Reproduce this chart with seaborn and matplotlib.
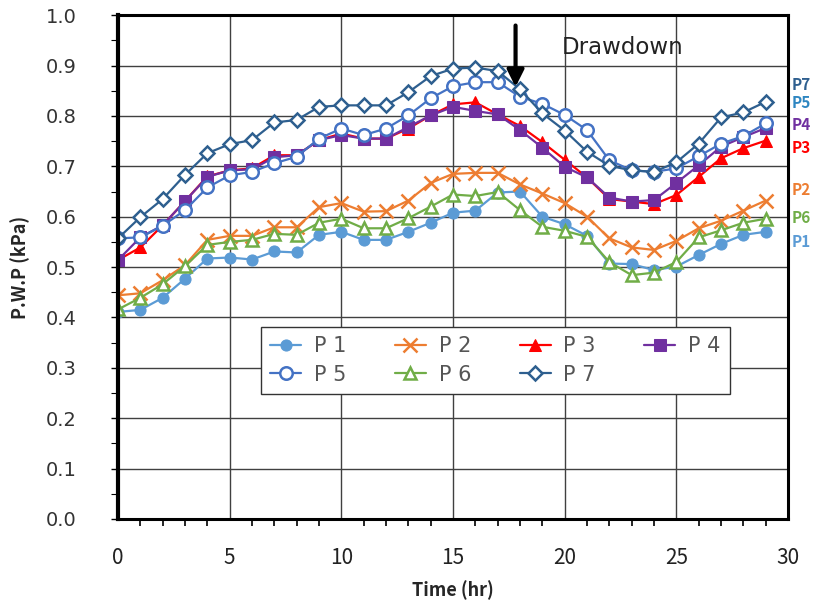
import numpy as np
import pandas as pd
import matplotlib
matplotlib.use("Agg")
import matplotlib.pyplot as plt
import seaborn as sns
from matplotlib.ticker import MultipleLocator

hours = list(range(30))

p1 = [0.411, 0.415, 0.439, 0.477, 0.517, 0.519, 0.515, 0.531, 0.529, 0.564,
      0.570, 0.554, 0.554, 0.570, 0.588, 0.608, 0.612, 0.648, 0.650, 0.600,
      0.585, 0.562, 0.507, 0.506, 0.494, 0.501, 0.524, 0.546, 0.564, 0.570]
p2 = [0.444, 0.448, 0.474, 0.504, 0.554, 0.562, 0.562, 0.579, 0.579, 0.619,
      0.627, 0.610, 0.611, 0.632, 0.667, 0.685, 0.687, 0.687, 0.664, 0.646,
      0.627, 0.600, 0.557, 0.539, 0.534, 0.552, 0.577, 0.592, 0.612, 0.632]
p3 = [0.514, 0.539, 0.583, 0.631, 0.680, 0.692, 0.696, 0.722, 0.722, 0.752,
      0.765, 0.755, 0.755, 0.775, 0.801, 0.823, 0.827, 0.803, 0.780, 0.748,
      0.713, 0.678, 0.635, 0.630, 0.625, 0.643, 0.679, 0.716, 0.736, 0.751]
p4 = [0.514, 0.559, 0.583, 0.631, 0.679, 0.692, 0.694, 0.718, 0.722, 0.752,
      0.762, 0.755, 0.755, 0.778, 0.801, 0.818, 0.810, 0.803, 0.772, 0.737,
      0.699, 0.678, 0.638, 0.630, 0.633, 0.667, 0.702, 0.739, 0.758, 0.776]
p5 = [0.557, 0.559, 0.582, 0.613, 0.658, 0.682, 0.689, 0.706, 0.719, 0.755,
      0.775, 0.762, 0.775, 0.801, 0.835, 0.859, 0.867, 0.867, 0.838, 0.824,
      0.802, 0.772, 0.712, 0.692, 0.689, 0.696, 0.720, 0.745, 0.760, 0.785]
p6 = [0.416, 0.439, 0.466, 0.502, 0.544, 0.550, 0.554, 0.566, 0.564, 0.588,
      0.596, 0.577, 0.577, 0.597, 0.620, 0.644, 0.641, 0.649, 0.613, 0.580,
      0.572, 0.560, 0.510, 0.484, 0.489, 0.510, 0.559, 0.573, 0.588, 0.596]
p7 = [0.557, 0.599, 0.635, 0.683, 0.726, 0.744, 0.752, 0.787, 0.792, 0.818,
      0.821, 0.821, 0.821, 0.847, 0.879, 0.894, 0.896, 0.889, 0.853, 0.805,
      0.771, 0.729, 0.701, 0.692, 0.689, 0.708, 0.745, 0.797, 0.807, 0.828]

names = ["P 1", "P 2", "P 3", "P 4", "P 5", "P 6", "P 7"]
series = [p1, p2, p3, p4, p5, p6, p7]
colors = ["#5b9bd5", "#ed7d31", "#ff0000", "#7030a0", "#4472c4", "#70ad47", "#2e5f8f"]
markers = ["o", "x", "^", "s", "o", "^", "D"]
filled = [True, True, True, True, False, False, False]
sizes = [8, 10, 9, 9, 9, 9, 7]

# right-side tags and where they sit
tag_names = ["P7", "P5", "P4", "P3", "P2", "P6", "P1"]
tag_colors = ["#2e5f8f", "#2e86c1", "#7030a0", "#ff0000", "#ed7d31", "#70ad47", "#5b9bd5"]
tag_y = [0.862, 0.826, 0.782, 0.736, 0.653, 0.597, 0.550]

sns.set_style("white")
plt.rcParams["font.family"] = ["DejaVu Sans"]

fig = plt.figure(figsize=(8.23, 6.07), dpi=100)
ax = fig.add_axes([0.1434, 0.145, 0.8141, 0.830])

for name, vals, c, m, f, s in zip(names, series, colors, markers, filled, sizes):
    kw = dict(marker=m, markersize=s, color=c, linewidth=1.6)
    if f:
        kw["markerfacecolor"] = c
        kw["markeredgecolor"] = c
    else:
        kw["markerfacecolor"] = "white"
        kw["markeredgecolor"] = c
        kw["markeredgewidth"] = 1.8
    if m == "x":
        kw["markeredgewidth"] = 1.8
    sns.lineplot(x=hours, y=vals, ax=ax, label=name, **kw)

ax.set_xlim(0, 30)
ax.set_ylim(0, 1.0)
ax.xaxis.set_major_locator(MultipleLocator(5))
ax.xaxis.set_minor_locator(MultipleLocator(1))
ax.yaxis.set_major_locator(MultipleLocator(0.1))
ax.yaxis.set_minor_locator(MultipleLocator(0.05))
ax.yaxis.set_major_formatter(matplotlib.ticker.FormatStrFormatter("%.1f"))
ax.grid(True, which="major", color="#404040", linewidth=1.0)
ax.set_axisbelow(True)

ax.tick_params(axis="both", which="both", direction="out", colors="black")
ax.tick_params(axis="x", which="major", length=8, width=1.5, labelsize=15, pad=12)
ax.tick_params(axis="x", which="minor", length=5, width=1.2, bottom=True)
ax.tick_params(axis="y", which="major", length=5, width=1, labelsize=14, pad=25, left=True)
ax.tick_params(axis="y", which="minor", length=5, width=0.8, left=True)
for lab in ax.get_xticklabels():
    lab.set_family("Noto Sans CJK KR")
    lab.set_color("#222222")
for lab in ax.get_yticklabels():
    lab.set_color("#333333")

for sp in ax.spines.values():
    sp.set_visible(True)
    sp.set_color("black")
    sp.set_linewidth(2.2)
ax.spines["left"].set_linewidth(3)

ax.set_xlabel("Time (hr)", fontsize=13, fontweight="bold", family="Noto Sans CJK KR", labelpad=8)
ax.set_ylabel("P.W.P (kPa)", fontsize=13, fontweight="bold", family="Noto Sans CJK KR", labelpad=11)

h, l = ax.get_legend_handles_labels()
order = [0, 4, 1, 5, 2, 6, 3]
leg = ax.legend([h[i] for i in order], [l[i] for i in order], ncol=4,
                loc="upper left", bbox_to_anchor=(0.213, 0.240, 0.70, 0.141),
                mode="expand", borderaxespad=0, frameon=True, fancybox=False,
                edgecolor="#333333", framealpha=1, handlelength=1.5,
                handletextpad=0.6, borderpad=0.45, labelspacing=0.4,
                prop={"family": "DejaVu Sans", "size": 15})
leg.get_frame().set_linewidth(1.0)
for t in leg.get_texts():
    t.set_color("#555555")

for name, c, y in zip(tag_names, tag_colors, tag_y):
    ax.text(30.15, y, name, color=c, fontsize=11, fontweight="bold",
            family="Noto Sans CJK KR", va="center", ha="left", clip_on=False)

ax.annotate("", xy=(17.8, 0.852), xytext=(17.8, 0.985),
            arrowprops=dict(arrowstyle="-|>", color="black", lw=3, mutation_scale=25))
ax.text(19.85, 0.936, "Drawdown", fontsize=16.5, color="#222222",
        family="DejaVu Sans", va="center", ha="left")

fig.savefig("out.png", dpi=100)
